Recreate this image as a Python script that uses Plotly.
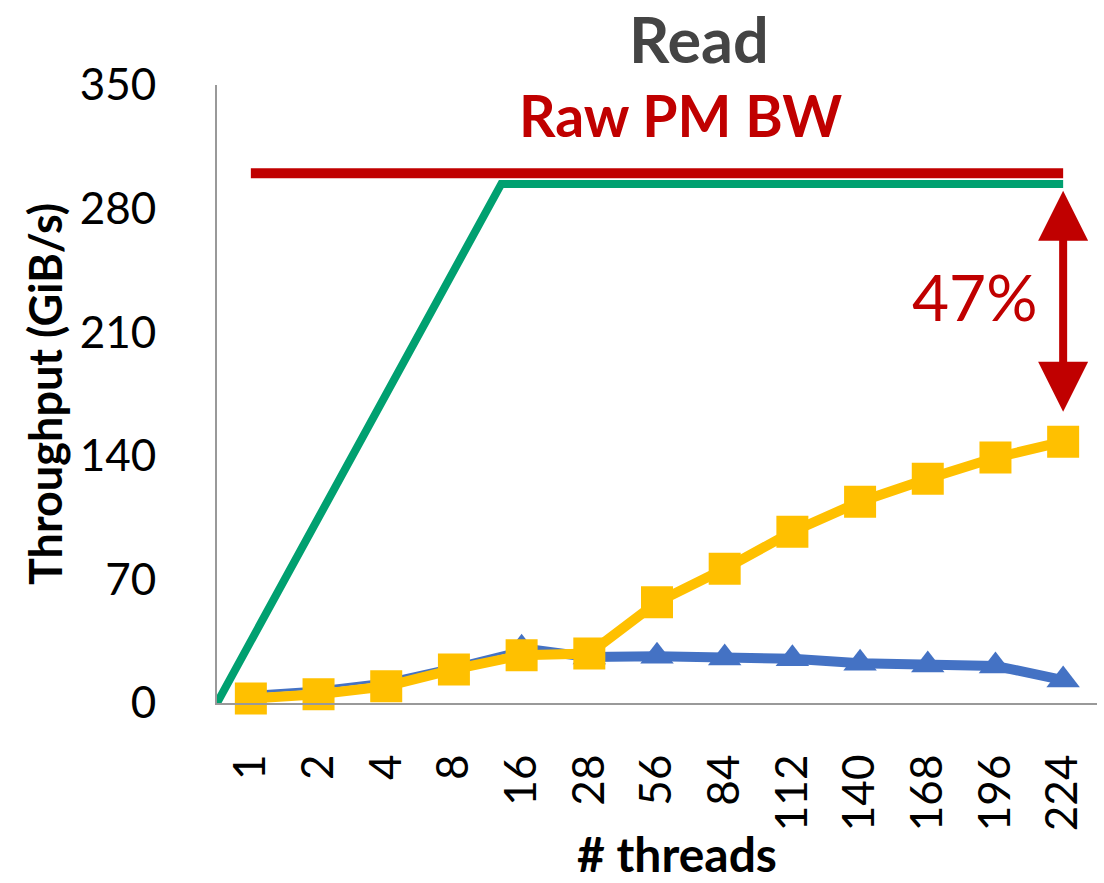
import plotly.graph_objects as go

# Thread counts on the x axis
threads = ["1", "2", "4", "8", "16", "28", "56", "84", "112", "140", "168", "196", "224"]

# Measured read throughput (GiB/s)
blue_vals = [6, 8.5, 13, 21.5, 31, 26, 26.5, 25.5, 25, 22.5, 21.5, 21, 13]
orange_vals = [2.5, 5, 9.5, 19, 27, 28, 57, 76, 97, 114, 127, 139, 148]

# Ideal scaling curve and raw persistent-memory bandwidth
ideal_x = [-0.5, 3.7, 12]
ideal_y = [0, 294, 294]
raw_bw = 300
gap_low = 165
gap_label = "47%"

y_ticks = [0, 70, 140, 210, 280, 350]

BLUE = "#4472C4"
ORANGE = "#FFC000"
GREEN = "#00A070"
RED = "#C00000"
FONT = "Lato"

idx = list(range(len(threads)))
split = threads.index("16")

fig = go.Figure()

# Blue series: thin segment for low thread counts, thick afterwards
fig.add_trace(go.Scatter(
    x=idx[:split + 1], y=blue_vals[:split + 1], mode="lines+markers",
    line=dict(color=BLUE, width=3),
    marker=dict(symbol="triangle-up", size=7, color=BLUE),
    cliponaxis=False, showlegend=False))
fig.add_trace(go.Scatter(
    x=idx[split:], y=blue_vals[split:], mode="lines+markers",
    line=dict(color=BLUE, width=10),
    marker=dict(symbol="triangle-up", size=29, color=BLUE),
    cliponaxis=False, showlegend=False))

fig.add_trace(go.Scatter(
    x=idx, y=orange_vals, mode="lines+markers",
    line=dict(color=ORANGE, width=10),
    marker=dict(symbol="square", size=32, color=ORANGE),
    cliponaxis=False, showlegend=False))

fig.add_trace(go.Scatter(
    x=ideal_x, y=ideal_y, mode="lines",
    line=dict(color=GREEN, width=8),
    cliponaxis=False, showlegend=False))

fig.add_trace(go.Scatter(
    x=[idx[0], idx[-1]], y=[raw_bw, raw_bw], mode="lines",
    line=dict(color=RED, width=10),
    cliponaxis=False, showlegend=False))

# Double-headed arrow marking the gap to the ideal curve
fig.add_annotation(
    x=idx[-1], y=gap_low, ax=idx[-1], ay=ideal_y[-1] - 3,
    xref="x", yref="y", axref="x", ayref="y",
    text="", showarrow=True, arrowside="end+start",
    arrowhead=2, startarrowhead=2, arrowwidth=8,
    arrowsize=1.25, startarrowsize=1.25, arrowcolor=RED)

fig.add_annotation(
    x=10.7, y=230, xref="x", yref="y", text=gap_label, showarrow=False,
    font=dict(family=FONT, size=64, color=RED))

fig.add_annotation(
    x=6.35, y=333, xref="x", yref="y", text="<b>Raw PM BW</b>", showarrow=False,
    font=dict(family=FONT, size=57, color=RED))

# Chart heading, anchored to the top edge of the page
fig.add_annotation(
    x=0.548, y=1.0, xref="paper", yref="paper", yshift=85, borderpad=0,
    xanchor="center", yanchor="top", text="<b>Read</b>", showarrow=False,
    font=dict(family=FONT, size=63, color="#444444"))

# X axis title, anchored to the bottom edge of the page
fig.add_annotation(
    x=0.523, y=0.0, xref="paper", yref="paper", yshift=-180, borderpad=0,
    xanchor="center", yanchor="bottom", text="<b># threads</b>", showarrow=False,
    font=dict(family=FONT, size=48, color="black"))

fig.update_layout(
    width=1104, height=883,
    margin=dict(l=217, r=7, t=85, b=180),
    paper_bgcolor="white", plot_bgcolor="white",
    font=dict(family=FONT, color="black"),
    xaxis=dict(
        range=[-0.5, 12.5], tickmode="array", tickvals=idx, ticktext=threads,
        tickangle=-90, tickfont=dict(size=44, family=FONT),
        ticklabelstandoff=32, showgrid=False, zeroline=False,
        showline=True, linecolor="#999999", linewidth=2),
    yaxis=dict(
        range=[0, 350], tickmode="array", tickvals=y_ticks,
        tickfont=dict(size=44, family=FONT), ticklabelstandoff=50,
        showgrid=False, zeroline=False,
        showline=True, linecolor="#999999", linewidth=2,
        title=dict(text="<b>Throughput (GiB/s)</b>", font=dict(size=45, family=FONT), standoff=3)),
)

fig.write_html("out.html")
